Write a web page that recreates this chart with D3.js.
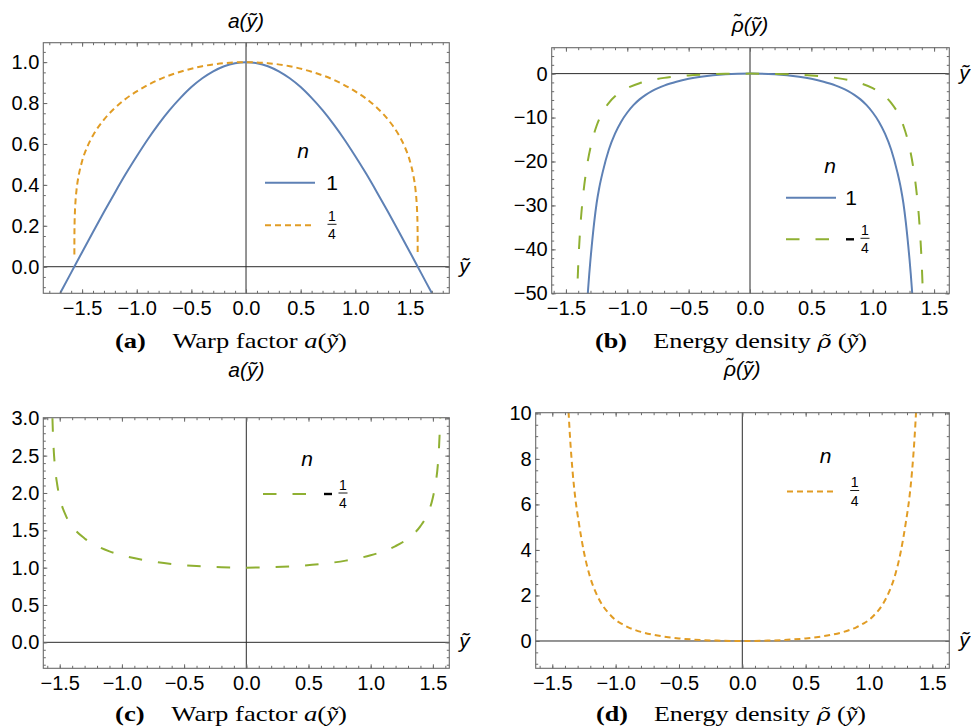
<!DOCTYPE html>
<html><head><meta charset="utf-8">
<script src="https://cdn.jsdelivr.net/npm/d3@7"></script>
<style>body{margin:0;background:#fff} svg{display:block}</style>
</head><body>
<svg id="chart" width="971" height="727"></svg>
<script>
// ---------------- data ----------------
const xTickValues = [-1.5, -1.0, -0.5, 0, 0.5, 1.0, 1.5];
const yTicksA = [0, 0.2, 0.4, 0.6, 0.8, 1.0];
const yTicksB = [-50, -40, -30, -20, -10, 0];
const yTicksC = [0, 0.5, 1.0, 1.5, 2.0, 2.5, 3.0];
const yTicksD = [0, 2, 4, 6, 8, 10];

// (a) warp factor, n = 1
const yTildeA1 = [-1.7,-1.6,-1.5,-1.4,-1.3,-1.2,-1.1,-1.0,-0.9,-0.8,-0.7,-0.6,-0.5,-0.4,-0.3,-0.2,-0.1,0,0.1,0.2,0.3,0.4,0.5,0.6,0.7,0.8,0.9,1.0,1.1,1.2,1.3,1.4,1.5,1.6,1.7];
const warpA1 = [-0.129,-0.029,0.071,0.170,0.267,0.362,0.454,0.540,0.622,0.697,0.765,0.825,0.878,0.921,0.955,0.980,0.995,1.000,0.995,0.980,0.955,0.921,0.878,0.825,0.765,0.697,0.622,0.540,0.454,0.362,0.267,0.170,0.071,-0.029,-0.129];
// (a) warp factor, n = 1/4
const yTildeA2 = [-1.5707,-1.5704,-1.569,-1.565,-1.56,-1.55,-1.53,-1.5,-1.45,-1.4,-1.3,-1.2,-1.1,-1.0,-0.8,-0.6,-0.4,-0.2,0,0.2,0.4,0.6,0.8,1.0,1.1,1.2,1.3,1.4,1.45,1.5,1.53,1.55,1.56,1.565,1.569,1.5704,1.5707];
const warpA2 = [0.06,0.14,0.206,0.276,0.322,0.380,0.449,0.516,0.589,0.642,0.719,0.776,0.821,0.857,0.914,0.953,0.980,0.995,1.000,0.995,0.980,0.953,0.914,0.857,0.821,0.776,0.719,0.642,0.589,0.516,0.449,0.380,0.322,0.276,0.206,0.14,0.06];

// (b) energy density, n = 1
const yTildeB1 = [-1.34,-1.32,-1.31,-1.30,-1.29,-1.27,-1.25,-1.23,-1.2,-1.15,-1.1,-1.05,-1.0,-0.95,-0.9,-0.85,-0.8,-0.75,-0.7,-0.65,-0.6,-0.5,-0.4,-0.2,0,0.2,0.4,0.5,0.6,0.65,0.7,0.75,0.8,0.85,0.9,0.95,1.0,1.05,1.1,1.15,1.2,1.23,1.25,1.27,1.29,1.30,1.31,1.32,1.34];
const rhoB1 = [-57.9,-49.3,-45.6,-42.3,-39.3,-33.9,-29.5,-26.2,-22.36,-17.28,-13.67,-10.94,-8.85,-7.18,-5.86,-4.82,-3.98,-3.30,-2.73,-2.25,-1.84,-1.19,-0.72,-0.16,0,-0.16,-0.72,-1.19,-1.84,-2.25,-2.73,-3.30,-3.98,-4.82,-5.86,-7.18,-8.85,-10.94,-13.67,-17.28,-22.36,-26.2,-29.5,-33.9,-39.3,-42.3,-45.6,-49.3,-57.9];
// (b) energy density, n = -1/4
const yTildeB2 = [-1.42,-1.40,-1.38,-1.36,-1.33,-1.29,-1.25,-1.2,-1.15,-1.1,-1.05,-1.0,-0.9,-0.8,-0.7,-0.6,-0.5,-0.4,-0.2,0,0.2,0.4,0.5,0.6,0.7,0.8,0.9,1.0,1.05,1.1,1.15,1.2,1.25,1.29,1.33,1.36,1.38,1.40,1.42];
const rhoB2 = [-60.1,-43.7,-33.9,-27.7,-21.3,-15.66,-11.87,-8.73,-6.64,-5.17,-4.10,-3.30,-2.18,-1.45,-0.97,-0.64,-0.41,-0.245,-0.056,0,-0.056,-0.245,-0.41,-0.64,-0.97,-1.45,-2.18,-3.30,-4.10,-5.17,-6.64,-8.73,-11.87,-15.66,-21.3,-27.7,-33.9,-43.7,-60.1];

// (c) warp factor, n = -1/4
const yTildeC = [-1.5585,-1.555,-1.55,-1.54,-1.52,-1.5,-1.45,-1.4,-1.3,-1.2,-1.1,-1.0,-0.8,-0.6,-0.4,-0.2,0,0.2,0.4,0.6,0.8,1.0,1.1,1.2,1.3,1.4,1.45,1.5,1.52,1.54,1.55,1.555,1.5585];
const warpC = [3.0,2.82,2.63,2.38,2.11,1.939,1.694,1.556,1.391,1.289,1.218,1.166,1.094,1.049,1.021,1.005,1.0,1.005,1.021,1.049,1.094,1.166,1.218,1.289,1.391,1.556,1.694,1.939,2.11,2.38,2.63,2.82,3.0];

// (d) energy density, n = 1/4
const yTildeD = [-1.38,-1.36,-1.34,-1.32,-1.29,-1.25,-1.2,-1.15,-1.1,-1.05,-1.0,-0.95,-0.9,-0.85,-0.8,-0.7,-0.6,-0.5,-0.4,-0.2,0,0.2,0.4,0.5,0.6,0.7,0.8,0.85,0.9,0.95,1.0,1.05,1.1,1.15,1.2,1.25,1.29,1.32,1.34,1.36,1.38];
const rhoD = [10.95,8.95,7.46,6.35,5.18,3.9,2.78,2.05,1.54,1.19,0.92,0.75,0.60,0.49,0.40,0.27,0.178,0.113,0.068,0.016,0,0.016,0.068,0.113,0.178,0.27,0.40,0.49,0.60,0.75,0.92,1.19,1.54,2.05,2.78,3.9,5.18,6.35,7.46,8.95,10.95];

// ---------------- styles ----------------
const BLUE = "#5E81B5", ORANGE = "#E19C24", GREEN = "#8FB032";
const SANS = "'Liberation Sans', Arial, sans-serif";
const SERIF = "'Liberation Serif', 'Times New Roman', serif";
const SERIF_MARK = "'DejaVu Serif', serif";
const styleN1 = {color: BLUE, dash: null};
const styleQ = {color: ORANGE, dash: "6,4"};
const styleMQ = {color: GREEN, dash: "13.5,16"};
const FS = 20;

const svg = d3.select("#chart");

function minorTicks(d, step) {
  const out = [];
  const lo = Math.ceil(d[0] / step - 1e-9), hi = Math.floor(d[1] / step + 1e-9);
  for (let i = lo; i <= hi; i++) out.push(+(i * step).toFixed(6));
  return out;
}

function panel(p, id) {
  const g = svg.append("g");
  const x = d3.scaleLinear().domain(p.xd).range([p.left, p.right]);
  const y = d3.scaleLinear().domain(p.yd).range([p.bottom, p.top]);
  const W = p.right - p.left, H = p.bottom - p.top;

  g.append("clipPath").attr("id", "clip" + id)
    .append("rect").attr("x", p.left).attr("y", p.top).attr("width", W).attr("height", H);

  // zero axes
  g.append("line").attr("x1", p.left).attr("x2", p.right).attr("y1", y(0)).attr("y2", y(0))
    .attr("stroke", "#2b2b2b").attr("stroke-width", 1);
  g.append("line").attr("x1", x(0)).attr("x2", x(0)).attr("y1", p.top).attr("y2", p.bottom)
    .attr("stroke", "#2b2b2b").attr("stroke-width", 1);

  // curves
  const cg = g.append("g").attr("clip-path", `url(#clip${id})`);
  p.series.forEach(s => {
    const data = s.xs.map((v, i) => [v, s.ys[i]]);
    cg.append("path").datum(data)
      .attr("d", d3.line().x(d => x(d[0])).y(d => y(d[1])).curve(d3.curveMonotoneX))
      .attr("fill", "none").attr("stroke", s.style.color).attr("stroke-width", 2)
      .attr("stroke-dasharray", s.style.dash);
  });

  // axes with inward ticks
  const fmtX = d3.format(".1f");
  const fmtY = d3.format(p.yFmt);
  const xMinor = minorTicks(p.xd, 0.1);
  const yMinor = minorTicks(p.yd, p.yMinorStep);
  const axes = [
    [d3.axisBottom(x).tickValues(xTickValues).tickFormat(fmtX).tickSize(-4).tickPadding(8), `translate(0,${p.bottom})`],
    [d3.axisBottom(x).tickValues(xMinor).tickFormat("").tickSize(-2.5), `translate(0,${p.bottom})`],
    [d3.axisTop(x).tickValues(xTickValues).tickFormat("").tickSize(-4), `translate(0,${p.top})`],
    [d3.axisTop(x).tickValues(xMinor).tickFormat("").tickSize(-2.5), `translate(0,${p.top})`],
    [d3.axisLeft(y).tickValues(p.yTicks).tickFormat(fmtY).tickSize(-4).tickPadding(4), `translate(${p.left},0)`],
    [d3.axisLeft(y).tickValues(yMinor).tickFormat("").tickSize(-2.5), `translate(${p.left},0)`],
    [d3.axisRight(y).tickValues(p.yTicks).tickFormat("").tickSize(-4), `translate(${p.right},0)`],
    [d3.axisRight(y).tickValues(yMinor).tickFormat("").tickSize(-2.5), `translate(${p.right},0)`]
  ];
  axes.forEach(([ax, tr]) => {
    const a = g.append("g").attr("transform", tr).call(ax);
    a.select(".domain").remove();
    a.selectAll(".tick line").attr("stroke", "#6a6a6a");
    a.selectAll("text").attr("font-family", SANS).attr("font-size", FS).attr("fill", "#000");
  });

  // frame
  g.append("rect").attr("x", p.left).attr("y", p.top).attr("width", W).attr("height", H)
    .attr("fill", "none").attr("stroke", "#6a6a6a").attr("stroke-width", 1.1);

  // axis label at right
  g.append("text").attr("x", p.right + 10).attr("y", y(0) + 6)
    .attr("font-family", SANS).attr("font-style", "italic").attr("font-size", 21).text("ỹ");

  // title on top of the vertical axis
  g.append("text").attr("x", x(0)).attr("y", p.titleY).attr("text-anchor", "middle")
    .attr("font-family", SANS).attr("font-style", "italic").attr("font-size", 21).text(p.title);

  // legend
  const L = p.legend;
  g.append("text").attr("x", L.nx).attr("y", L.ny).attr("text-anchor", "middle")
    .attr("font-family", SANS).attr("font-style", "italic").attr("font-size", 21).text("n");
  L.rows.forEach(r => {
    g.append("line").attr("x1", L.x0).attr("x2", L.x0 + 50).attr("y1", r.y).attr("y2", r.y)
      .attr("stroke", r.style.color).attr("stroke-width", 2).attr("stroke-dasharray", r.style.dash);
    if (r.label === "1") {
      g.append("text").attr("x", L.lx).attr("y", r.y + 7).attr("text-anchor", "middle")
        .attr("font-family", SANS).attr("font-size", 21).text("1");
    } else {
      let fx = L.lx;
      if (r.label === "-1/4") {
        g.append("line").attr("x1", L.lx - 5).attr("x2", L.lx + 3).attr("y1", r.y).attr("y2", r.y)
          .attr("stroke", "#000").attr("stroke-width", 2.4);
        fx = L.lx + 14;
      }
      g.append("text").attr("x", fx).attr("y", r.y - 4.5).attr("text-anchor", "middle")
        .attr("font-family", SANS).attr("font-size", 14).text("1");
      g.append("line").attr("x1", fx - 4.5).attr("x2", fx + 4.5).attr("y1", r.y - 1).attr("y2", r.y - 1)
        .attr("stroke", "#000").attr("stroke-width", 0.9);
      g.append("text").attr("x", fx).attr("y", r.y + 14).attr("text-anchor", "middle")
        .attr("font-family", SANS).attr("font-size", 14).text("4");
    }
  });

  // caption (stretched horizontally to the width of the reference's typeset caption)
  const c = g.append("text").attr("x", p.capX).attr("y", p.capY).attr("text-anchor", "middle")
    .attr("font-family", SERIF).attr("font-size", 21);
  c.append("tspan").attr("font-weight", "bold").text(p.capTag);
  c.append("tspan").text("\u2003" + p.capText + " ");
  p.capMath.forEach(m => {
    const t = c.append("tspan").attr("font-style", m[1] ? "italic" : "normal").text(m[0]);
    if (m[0] === "ρ̃") t.attr("font-family", SERIF_MARK).attr("font-size", 19);
  });
  const w = c.node().getComputedTextLength();
  const s = p.capW / w;
  c.attr("transform", `translate(${p.capX},0) scale(${s},1) translate(${-p.capX},0)`);
}

panel({
  left: 43.3, right: 449.3, top: 42.7, bottom: 293.3,
  xd: [-1.855, 1.86], yd: [-0.13, 1.095], yTicks: yTicksA, yMinorStep: 0.05, yFmt: ".1f",
  series: [{xs: yTildeA1, ys: warpA1, style: styleN1}, {xs: yTildeA2, ys: warpA2, style: styleQ}],
  title: "a(ỹ)", titleY: 28,
  legend: {nx: 303, ny: 158, x0: 265, lx: 332, rows: [{y: 182.7, style: styleN1, label: "1"}, {y: 225.3, style: styleQ, label: "1/4"}]},
  capX: 231, capY: 348, capW: 232, capTag: "(a)", capText: "Warp factor", capMath: [["a", true], ["(", false], ["ỹ", true], [")", false]]
}, "a");

panel({
  left: 551.7, right: 949.3, top: 47.7, bottom: 293.3,
  xd: [-1.616, 1.624], yd: [-50, 5.9], yTicks: yTicksB, yMinorStep: 2, yFmt: "d",
  series: [{xs: yTildeB1, ys: rhoB1, style: styleN1}, {xs: yTildeB2, ys: rhoB2, style: styleMQ}],
  title: "ρ̃(ỹ)", titleY: 32,
  legend: {nx: 830, ny: 173, x0: 786, lx: 851, rows: [{y: 197.7, style: styleN1, label: "1"}, {y: 239.3, style: styleMQ, label: "-1/4"}]},
  capX: 731, capY: 348, capW: 272, capTag: "(b)", capText: "Energy density", capMath: [["ρ̃", true], [" (", false], ["ỹ", true], [")", false]]
}, "b");

panel({
  left: 43.3, right: 449.3, top: 417.7, bottom: 668.3,
  xd: [-1.632, 1.632], yd: [-0.348, 3.008], yTicks: yTicksC, yMinorStep: 0.1, yFmt: ".1f",
  series: [{xs: yTildeC, ys: warpC, style: styleMQ}],
  title: "a(ỹ)", titleY: 377,
  legend: {nx: 307, ny: 466, x0: 263, lx: 329, rows: [{y: 494, style: styleMQ, label: "-1/4"}]},
  capX: 231, capY: 721, capW: 232, capTag: "(c)", capText: "Warp factor", capMath: [["a", true], ["(", false], ["ỹ", true], [")", false]]
}, "c");

panel({
  left: 535.7, right: 949.3, top: 412.7, bottom: 668.3,
  xd: [-1.631, 1.634], yd: [-1.2, 10.03], yTicks: yTicksD, yMinorStep: 0.5, yFmt: "d",
  series: [{xs: yTildeD, ys: rhoD, style: styleQ}],
  title: "ρ̃(ỹ)", titleY: 376,
  legend: {nx: 825.5, ny: 463, x0: 787, lx: 854.7, rows: [{y: 491.5, style: styleQ, label: "1/4"}]},
  capX: 731, capY: 721, capW: 270, capTag: "(d)", capText: "Energy density", capMath: [["ρ̃", true], [" (", false], ["ỹ", true], [")", false]]
}, "d");
</script>
</body></html>
